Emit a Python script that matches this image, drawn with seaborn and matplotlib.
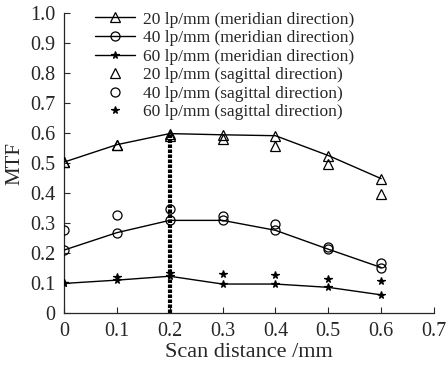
import numpy as np
import pandas as pd
import seaborn as sns
import matplotlib.pyplot as plt

# Datos
distancia = [0, 0.1, 0.2, 0.3, 0.4, 0.5, 0.6]

mer_20 = [0.503, 0.561, 0.598, 0.594, 0.591, 0.525, 0.448]
mer_40 = [0.210, 0.268, 0.309, 0.309, 0.276, 0.213, 0.152]
mer_60 = [0.099, 0.110, 0.123, 0.097, 0.097, 0.086, 0.061]

sag_20 = [0.503, 0.561, 0.589, 0.580, 0.556, 0.497, 0.396]
sag_40 = [0.276, 0.328, 0.346, 0.323, 0.296, 0.222, 0.167]
sag_60 = [0.099, 0.122, 0.133, 0.130, 0.128, 0.114, 0.108]

x_ticks = [0, 0.1, 0.2, 0.3, 0.4, 0.5, 0.6, 0.7]
x_labels = ['0', '0.1', '0.2', '0.3', '0.4', '0.5', '0.6', '0.7']
y_ticks = [0, 0.1, 0.2, 0.3, 0.4, 0.5, 0.6, 0.7, 0.8, 0.9, 1.0]
y_labels = ['0', '0.1', '0.2', '0.3', '0.4', '0.5', '0.6', '0.7', '0.8', '0.9', '1.0']

sns.set_style('ticks')
plt.rcParams['font.family'] = ['Liberation Serif', 'DejaVu Serif']

fig = plt.figure(figsize=(4.47, 3.68), dpi=100)
ax = fig.add_axes([0.143, 0.149, 0.828, 0.816])

# Linea punteada en 0.2
ax.plot([0.2, 0.2], [0, 0.6], color='k', linewidth=3.0,
        linestyle=(0, (0.85, 0.35)), dash_capstyle='butt', zorder=1)

series = [
    (mer_20, '^', 7.5, '20 lp/mm (meridian direction)', '-'),
    (mer_40, 'o', 6.5, '40 lp/mm (meridian direction)', '-'),
    (mer_60, '*', 5.5, '60 lp/mm (meridian direction)', '-'),
    (sag_20, '^', 7.5, '20 lp/mm (sagittal direction)', ''),
    (sag_40, 'o', 6.5, '40 lp/mm (sagittal direction)', ''),
    (sag_60, '*', 5.5, '60 lp/mm (sagittal direction)', ''),
]

for valores, marca, tam, etiqueta, estilo in series:
    df = pd.DataFrame({'x': distancia, 'y': valores})
    relleno = 'k' if marca == '*' else 'none'
    sns.lineplot(data=df, x='x', y='y', ax=ax, color='k', linewidth=1,
                 linestyle=estilo, marker=marca, markersize=tam,
                 markerfacecolor=relleno, markeredgecolor='k',
                 markeredgewidth=0.9, label=etiqueta, zorder=3)

ax.set_xlim(0, 0.7)
ax.set_ylim(0, 1.0)
ax.set_xticks(x_ticks)
ax.set_xticklabels(x_labels)
ax.set_yticks(y_ticks)
ax.set_yticklabels(y_labels)
ax.tick_params(direction='in', length=4, width=0.8, labelsize=14.5, pad=6)
for s in ['left', 'bottom']:
    ax.spines[s].set_linewidth(0.9)
sns.despine(ax=ax)

ax.set_xlabel('Scan distance /mm', fontsize=16, labelpad=2)
ax.set_ylabel('MTF', fontsize=15, labelpad=4)

ax.legend(loc='upper left', bbox_to_anchor=(0.084, 1.005), frameon=False,
          fontsize=12.5, handlelength=2.3, handletextpad=0.45,
          labelspacing=0.14, borderpad=0, borderaxespad=0)

fig.savefig('out.png', dpi=100)
